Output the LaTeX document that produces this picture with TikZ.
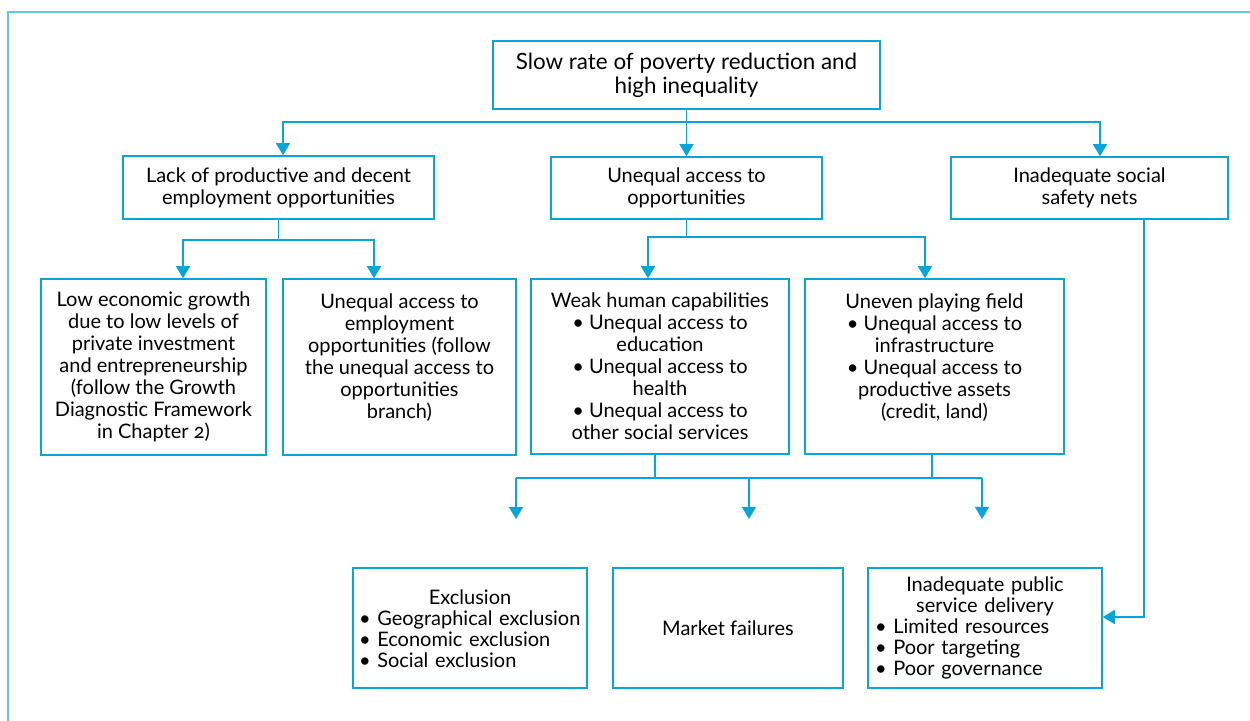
\documentclass[tikz,border=0pt]{standalone}
\usepackage{fontspec}
\setsansfont{Lato}[Numbers=OldStyle]
\usetikzlibrary{arrows.meta, positioning, calc}
\definecolor{cblue}{HTML}{0AA5D8}
\definecolor{cframe}{HTML}{62C6E6}
\tikzset{
  every picture/.style={font=\sffamily, line width=0.75pt},
  box/.style={draw=cblue, align=center, inner sep=3pt, font=\sffamily\fontsize{10}{11}\selectfont},
  txt/.style={align=center, inner sep=3pt, font=\sffamily\fontsize{10}{11}\selectfont},
  list/.style={align=left, inner sep=0pt, text width=#1, font=\sffamily\fontsize{10}{10.5}\selectfont},
  link/.style={draw=cblue},
  arrow/.style={-{Triangle[width=7pt,length=6pt]}, draw=cblue},
}

\begin{document}
\begin{tikzpicture}[x=0.5pt, y=-0.5pt]
  \useasboundingbox (0,0) rectangle (1250,721);
  \draw[cframe, line width=1pt] (1250,12) -- (8,12) -- (8,721);
  % top
  \node[box, minimum width=193.5pt, minimum height=34pt, font=\sffamily\fontsize{11.2}{12}\selectfont] (top) at (686.5,75)
    {Slow rate of poverty reduction and\\high inequality};
  % second row
  \node[box, minimum width=155.5pt, minimum height=31.5pt] (lack) at (278.5,187.5)
    {Lack of productive and decent\\employment opportunities};
  \node[box, minimum width=135.5pt, minimum height=31pt] (uneq) at (686.5,188)
    {Unequal access to\\opportunities};
  \node[box, minimum width=138.5pt, minimum height=31pt] (safe) at (1089.5,188)
    {Inadequate social\\safety nets};
  % third row
  \node[box, minimum width=112.5pt, minimum height=88pt] (low) at (153.5,367)
    {Low economic growth\\due to low levels of\\private investment\\and entrepreneurship\\(follow the Growth\\Diagnostic Framework\\in Chapter 2)};
  \node[box, minimum width=116.5pt, minimum height=88pt] (emp) at (399.5,367) {};
  \node[txt, anchor=north] (emptxt) at (399.5,287)
    {Unequal access to\\employment\\opportunities (follow\\the unequal access to\\opportunities\\branch)};
  \node[box, minimum width=129pt, minimum height=87.5pt] (weak) at (660,366.5)
    {Weak human capabilities\\• Unequal access to\\education\\• Unequal access to\\health\\• Unequal access to\\other social services};
  \node[box, minimum width=129.5pt, minimum height=87.5pt] (field) at (934.5,366.5) {};
  \node[txt, anchor=north] (fieldtxt) at (934.5,287)
    {Uneven playing field\\• Unequal access to\\infrastructure\\• Unequal access to\\productive assets\\(credit, land)};
  % bottom row
  \node[box, minimum width=117pt, minimum height=60pt] (excl) at (470,628) {};
  \node[list=111pt] (excltxt) at (470,629)
    {\hfill Exclusion\hfill\null\\• Geographical exclusion\\• Economic exclusion\\• Social exclusion};
  \node[box, minimum width=115pt, minimum height=60pt] (mkt) at (728,628) {Market failures};
  \node[box, minimum width=117pt, minimum height=60pt] (psd) at (985,628) {};
  \node[list=110pt] (psdtxt) at (985,628)
    {\hfill Inadequate public\hfill\null\\\hfill service delivery\hfill\null\\• Limited resources\\• Poor targeting\\• Poor governance};
  % connectors
  \coordinate (j0) at (686.5,122);
  \draw[link] (top.south) -- (j0);
  \draw[arrow] (j0) -| ([xshift=2.25pt]lack.north);
  \draw[arrow] (j0) -- (uneq.north);
  \draw[arrow] (j0) -| ([xshift=5.25pt]safe.north);
  \coordinate (j1) at (278.5,240);
  \draw[link] (lack.south) -- (j1);
  \draw[arrow] (j1) -| ([xshift=14.75pt]low.north);
  \draw[arrow] (j1) -| ([xshift=-12.75pt]emp.north);
  \coordinate (j2) at (686.5,237);
  \draw[link] (uneq.south) -- (j2);
  \draw[arrow] (j2) -| ([xshift=-6pt]weak.north);
  \draw[arrow] (j2) -| ([xshift=-4.75pt]field.north);
  \coordinate (j3) at (655,478); \coordinate (j4) at (932,478);
  \draw[link] ([xshift=-2.5pt]weak.south) -- (j3);
  \draw[link] ([xshift=-1.25pt]field.south) -- (j4);
  \coordinate (b1) at (516,478); \coordinate (b2) at (749,478); \coordinate (b3) at (982,478);
  \coordinate (e1) at (516,519); \coordinate (e2) at (749,519); \coordinate (e3) at (982,519);
  \draw[link] (b1) -- (b3);
  \draw[arrow] (b1) -- (e1); \draw[arrow] (b2) -- (e2); \draw[arrow] (b3) -- (e3);
  \draw[arrow] ([xshift=27.25pt]safe.south) |- ([yshift=5.5pt]psd.east);
\end{tikzpicture}
\end{document}
